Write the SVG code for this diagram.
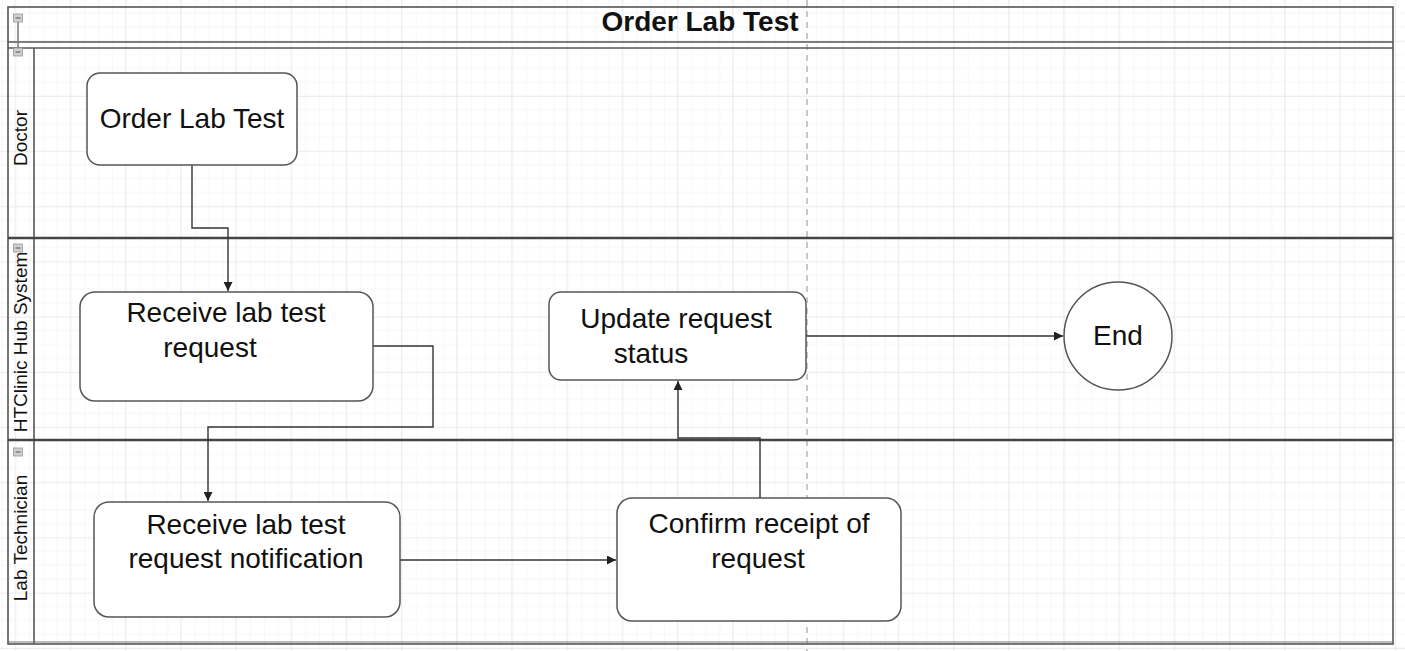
<svg xmlns="http://www.w3.org/2000/svg" width="1405" height="651" viewBox="0 0 1405 651">
<defs>
<pattern id="minor" x="14.6" y="40.8" width="13.8" height="13.8" patternUnits="userSpaceOnUse">
<path d="M0 0H13.8M0 0V13.8" fill="none" stroke="#efefef" stroke-width="1"/>
</pattern>
<pattern id="major" x="14.6" y="40.8" width="55.2" height="55.2" patternUnits="userSpaceOnUse">
<rect width="55.2" height="55.2" fill="url(#minor)"/>
<path d="M0 0H55.2M0 0V55.2" fill="none" stroke="#e0e0e0" stroke-width="1"/>
</pattern>
<marker id="arr" viewBox="0 0 10 10" refX="10" refY="5" markerWidth="9" markerHeight="9" markerUnits="userSpaceOnUse" orient="auto">
<path d="M0 0L10 5L0 10Z" fill="#222"/>
</marker>
</defs>
<style>
.node{fill:#fff;stroke:#555;stroke-width:1.5}
.t{font-family:"Liberation Sans",Arial,sans-serif;font-size:28px;fill:#111;text-anchor:middle}
.lane{font-family:"Liberation Sans",Arial,sans-serif;font-size:19px;fill:#111;text-anchor:middle}
.title{font-family:"Liberation Sans",Arial,sans-serif;font-size:28px;font-weight:bold;fill:#111;text-anchor:middle}
.edge{fill:none;stroke:#333;stroke-width:1.4}
.icon{fill:#cfcfcf;stroke:#9a9a9a;stroke-width:0.8}
.pl{stroke:#555;stroke-width:1.6;fill:none}
.sep{stroke:#444;stroke-width:2.5}
</style>
<rect width="1405" height="651" fill="#fff"/>
<rect width="1405" height="651" fill="url(#major)"/>
<line x1="807" y1="0" x2="807" y2="651" stroke="#b5b5b5" stroke-width="1.5" stroke-dasharray="6,5"/>
<g id="pool">
<rect x="8" y="7" width="1385" height="637" class="pl"/>
<line x1="8" y1="42" x2="1393" y2="42" class="pl"/>
<line x1="8" y1="48" x2="1393" y2="48" class="pl"/>
<line x1="34" y1="48" x2="34" y2="644" class="pl"/>
<line x1="8" y1="642" x2="1393" y2="642" stroke="#777" stroke-width="1.2"/>
<text class="title" x="700" y="31">Order Lab Test</text>
<line x1="18" y1="20" x2="18" y2="50" stroke="#777" stroke-width="1.5"/>
<rect class="icon" x="13.5" y="14" width="9" height="8"/>
<line x1="15.5" y1="18" x2="20.5" y2="18" stroke="#555" stroke-width="1"/>
<rect class="icon" x="13.5" y="48" width="9" height="8"/>
<line x1="15.5" y1="52" x2="20.5" y2="52" stroke="#555" stroke-width="1"/>
</g>
<g id="lane-doctor">
<text class="lane" transform="translate(27,138) rotate(-90)">Doctor</text>
</g>
<g id="lane-system">
<line x1="8" y1="238" x2="1393" y2="238" class="sep"/>
<text class="lane" transform="translate(27,342) rotate(-90)">HTClinic Hub System</text>
<rect class="icon" x="13.5" y="244" width="9" height="8"/>
<line x1="15.5" y1="248" x2="20.5" y2="248" stroke="#555" stroke-width="1"/>
</g>
<g id="lane-tech">
<line x1="8" y1="440" x2="1393" y2="440" class="sep"/>
<text class="lane" transform="translate(27,538) rotate(-90)">Lab Technician</text>
<rect class="icon" x="13.5" y="448" width="9" height="8"/>
<line x1="15.5" y1="452" x2="20.5" y2="452" stroke="#555" stroke-width="1"/>
</g>
<g id="connectors">
<path class="edge" d="M192 165V228H228V291" marker-end="url(#arr)"/>
<path class="edge" d="M373 346H433V427H208V501" marker-end="url(#arr)"/>
<path class="edge" d="M400 560H616" marker-end="url(#arr)"/>
<path class="edge" d="M760 498V438H678V381" marker-end="url(#arr)"/>
<path class="edge" d="M806 336H1063" marker-end="url(#arr)"/>
</g>
<g id="n-order">
<rect class="node" x="87" y="73" width="210" height="92" rx="13"/>
<text class="t" x="192" y="128">Order Lab Test</text>
</g>
<g id="n-receive">
<rect class="node" x="80" y="292" width="293" height="109" rx="15"/>
<text class="t" x="226" y="322">Receive lab test</text>
<text class="t" x="210" y="357">request</text>
</g>
<g id="n-update">
<rect class="node" x="549" y="292" width="257" height="88" rx="12"/>
<text class="t" x="676" y="328">Update request</text>
<text class="t" x="651" y="363">status</text>
</g>
<g id="n-end">
<circle class="node" cx="1118" cy="336" r="54"/>
<text class="t" x="1118" y="345">End</text>
</g>
<g id="n-notify">
<rect class="node" x="94" y="502" width="306" height="115" rx="15"/>
<text class="t" x="246" y="534">Receive lab test</text>
<text class="t" x="246" y="568">request notification</text>
</g>
<g id="n-confirm">
<rect class="node" x="617" y="498" width="284" height="123" rx="15"/>
<text class="t" x="759" y="533">Confirm receipt of</text>
<text class="t" x="758" y="568">request</text>
</g>
</svg>
